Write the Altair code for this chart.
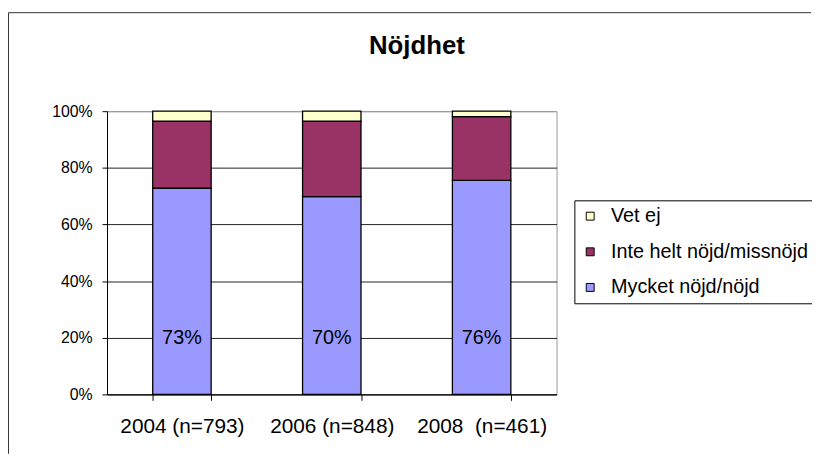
import altair as alt
import pandas as pd

years = ["2004 (n=793)", "2006 (n=848)", "2008\u00a0 (n=461)"]
series = ["Vet ej", "Inte helt nöjd/missnöjd", "Mycket nöjd/nöjd"]
colors = ["#FFFFCC", "#993366", "#9999FF"]
mycket = [72.8, 69.8, 75.6]
inte = [23.7, 26.7, 22.5]
vetej = [3.5, 3.5, 1.9]
title_text = "Nöjdhet"

rows = []
for i, y in enumerate(years):
    for s, vals, rank in [(series[2], mycket, 0), (series[1], inte, 1), (series[0], vetej, 2)]:
        rows.append({"year": y, "series": s, "value": vals[i], "rank": rank,
                     "label": f"{round(vals[i])}%"})
df = pd.DataFrame(rows)

FONT = "Liberation Sans"

x_enc = alt.X("year:N", sort=years, title=None,
              scale=alt.Scale(paddingInner=0.61, paddingOuter=0.305),
              axis=alt.Axis(labelAngle=0, labelFontSize=21, labelColor="black",
                            labelPadding=15, tickBand="extent", tickSize=6,
                            tickColor="black", domainColor="black", grid=False))

bars = alt.Chart(df).mark_bar(stroke="black", strokeWidth=1.3).encode(
    x=x_enc,
    y=alt.Y("value:Q", stack="normalize", title=None,
            scale=alt.Scale(domain=[0, 1], nice=False),
            axis=alt.Axis(format=".0%", values=[0, 0.2, 0.4, 0.6, 0.8, 1.0],
                          labelFontSize=16, labelColor="black", labelPadding=10,
                          tickSize=5, tickColor="black", domainColor="black",
                          gridColor={"condition": {"test": "datum.value === 1", "value": "#999999"},
                                     "value": "#222222"})),
    color=alt.Color("series:N", scale=alt.Scale(domain=series, range=colors),
                    legend=alt.Legend(title=None, orient="none", legendX=472, legendY=90,
                                      strokeColor="black", padding=6, rowPadding=16,
                                      labelFontSize=20, labelColor="black", labelLimit=400,
                                      symbolType="square", symbolSize=64,
                                      symbolStrokeColor="black", symbolStrokeWidth=1,
                                      labelOffset=11)),
    order=alt.Order("rank:Q", sort="ascending"),
)

labels = alt.Chart(df).transform_filter(
    alt.datum.series == series[2]
).mark_text(fontSize=20, color="black", baseline="middle").encode(
    x=alt.X("year:N", sort=years),
    y=alt.datum(0.2),
    text="label:N",
)

one = pd.DataFrame({"t": [title_text]})

title = alt.Chart(one).mark_text(
    fontSize=26, fontWeight="bold", color="black", align="center", baseline="alphabetic"
).encode(x=alt.value(313), y=alt.value(-58), text="t:N")

frame_top = alt.Chart(one).mark_rule(stroke="#333333", strokeWidth=1).encode(
    x=alt.value(-99.5), x2=alt.value(711), y=alt.value(-99.5)
)
frame_left = alt.Chart(one).mark_rule(stroke="#333333", strokeWidth=1).encode(
    x=alt.value(-99.5), y=alt.value(-99.5), y2=alt.value(346)
)

chart = alt.layer(bars, labels, title, frame_top, frame_left).properties(
    width=454, height=286,
    autosize="none",
    padding={"left": 100, "top": 102, "right": 258, "bottom": 61},
).configure(font=FONT).configure_view(stroke="#999999", strokeWidth=1)

chart.save("out.html", embed_options={"renderer": "svg", "actions": False})
